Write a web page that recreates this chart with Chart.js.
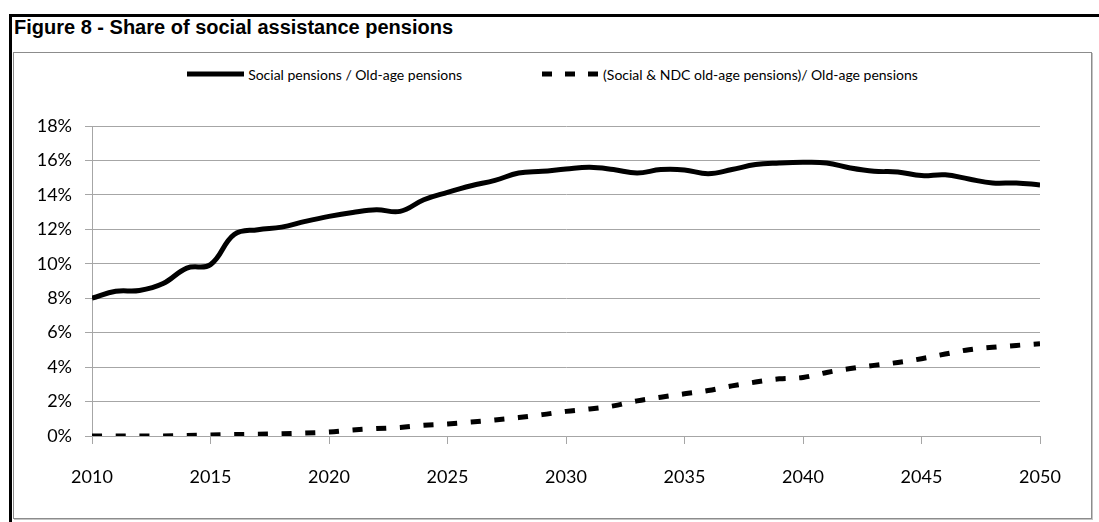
<!DOCTYPE html>
<html>
<head>
<meta charset="utf-8">
<title>Figure 8 - Share of social assistance pensions</title>
<script src="https://cdn.jsdelivr.net/npm/chart.js@4.4.1/dist/chart.umd.min.js"></script>
<style>
  html, body { margin: 0; padding: 0; background: #fff; }
  body { width: 1099px; height: 522px; position: relative; overflow: hidden; }
  .frame-top { position: absolute; left: 9px; top: 14px; width: 1090px; height: 3px; background: #000; }
  .frame-left { position: absolute; left: 9px; top: 14px; width: 3px; height: 508px; background: #000; }
  .title { position: absolute; left: 14px; top: 16px; font: bold 20px "Liberation Sans", Arial, sans-serif; color: #000; }
  .chart-box { position: absolute; left: 13px; top: 52px; width: 1077px; height: 465px; border: 1px solid #8c8c8c; box-shadow: 1px 1px 0 #c4c4c4; }
  .legend { position: absolute; left: 13px; top: 64px; width: 1079px; display: flex; justify-content: center; gap: 80px; font: 14px Lato, "Open Sans", sans-serif; color: #000; }
  .legend-item { display: flex; align-items: center; }
  .legend-item svg { margin-right: 4px; }
  #wrap { position: absolute; left: 0; top: 0; width: 1099px; height: 522px; }
</style>
</head>
<body>
<div class="frame-top"></div>
<div class="frame-left"></div>
<div class="title">Figure 8 - Share of social assistance pensions</div>
<div class="chart-box"></div>
<div class="legend">
  <div class="legend-item">
    <svg width="57" height="20"><line x1="0" y1="10" x2="57" y2="10" stroke="#000" stroke-width="5"/></svg>
    <span id="lg0"></span>
  </div>
  <div class="legend-item">
    <svg width="57" height="20"><line x1="0" y1="10" x2="57" y2="10" stroke="#000" stroke-width="5" stroke-dasharray="10 13"/></svg>
    <span id="lg1"></span>
  </div>
</div>
<div id="wrap"><canvas id="chart" width="1099" height="522"></canvas></div>

<script>
// Data (values in %)
const years = [2010, 2011, 2012, 2013, 2014, 2015, 2016, 2017, 2018, 2019,
  2020, 2021, 2022, 2023, 2024, 2025, 2026, 2027, 2028, 2029,
  2030, 2031, 2032, 2033, 2034, 2035, 2036, 2037, 2038, 2039,
  2040, 2041, 2042, 2043, 2044, 2045, 2046, 2047, 2048, 2049, 2050];

const socialPensions = [8.0, 8.4, 8.45, 8.85, 9.75, 9.95, 11.7, 11.98, 12.13, 12.46,
  12.75, 12.98, 13.14, 13.04, 13.72, 14.15, 14.53, 14.84, 15.27, 15.37,
  15.5, 15.6, 15.47, 15.27, 15.47, 15.45, 15.23, 15.47, 15.76, 15.85,
  15.89, 15.85, 15.56, 15.37, 15.33, 15.12, 15.17, 14.92, 14.69, 14.69, 14.58];

const socialNdcPensions = [0, 0, 0, 0, 0.03, 0.06, 0.08, 0.1, 0.13, 0.17,
  0.23, 0.35, 0.43, 0.5, 0.62, 0.7, 0.81, 0.93, 1.07, 1.24,
  1.43, 1.57, 1.75, 2.04, 2.25, 2.45, 2.64, 2.91, 3.13, 3.32,
  3.4, 3.69, 3.92, 4.1, 4.27, 4.49, 4.76, 5.01, 5.15, 5.26, 5.36];

const seriesNames = ['Social pensions / Old-age pensions', '(Social & NDC old-age pensions)/ Old-age pensions'];
const xTickYears = [2010, 2015, 2020, 2025, 2030, 2035, 2040, 2045, 2050];
const yTickValues = [0, 2, 4, 6, 8, 10, 12, 14, 16, 18];

document.getElementById('lg0').textContent = seriesNames[0];
document.getElementById('lg1').textContent = seriesNames[1];

const toPoints = (vals) => vals.map((v, i) => ({ x: years[i], y: v }));
const axisFont = { family: 'Lato, "Open Sans", sans-serif', size: 18 };
const gridGray = '#a6a6a6';

new Chart(document.getElementById('chart'), {
  type: 'line',
  data: {
    datasets: [
      {
        label: seriesNames[0],
        data: toPoints(socialPensions),
        borderColor: '#000',
        borderWidth: 5,
        tension: 0.4,
        pointRadius: 0,
      },
      {
        label: seriesNames[1],
        data: toPoints(socialNdcPensions),
        borderColor: '#000',
        borderWidth: 5,
        borderDash: [10, 13.7],
        tension: 0.4,
        pointRadius: 0,
      }
    ]
  },
  options: {
    responsive: false,
    animation: false,
    layout: { padding: { left: 0, right: 59, top: 126, bottom: 26 } },
    plugins: { legend: { display: false }, tooltip: { enabled: false } },
    scales: {
      x: {
        type: 'linear',
        min: xTickYears[0],
        max: xTickYears[xTickYears.length - 1],
        afterBuildTicks: (scale) => { scale.ticks = xTickYears.map((v) => ({ value: v })); },
        afterFit: (scale) => { scale.height = 60; },
        grid: { drawOnChartArea: false, drawTicks: true, tickLength: 8, color: gridGray },
        border: { color: gridGray },
        ticks: { color: '#000', font: axisFont, padding: 22, maxRotation: 0, callback: (v) => String(v) }
      },
      y: {
        min: yTickValues[0],
        max: yTickValues[yTickValues.length - 1],
        afterBuildTicks: (scale) => { scale.ticks = yTickValues.map((v) => ({ value: v })); },
        afterFit: (scale) => { scale.width = 92; },
        grid: { color: gridGray, tickLength: 7 },
        border: { color: gridGray },
        ticks: { color: '#000', font: axisFont, padding: 13, callback: (v) => v + '%' }
      }
    }
  }
});
</script>
</body>
</html>
